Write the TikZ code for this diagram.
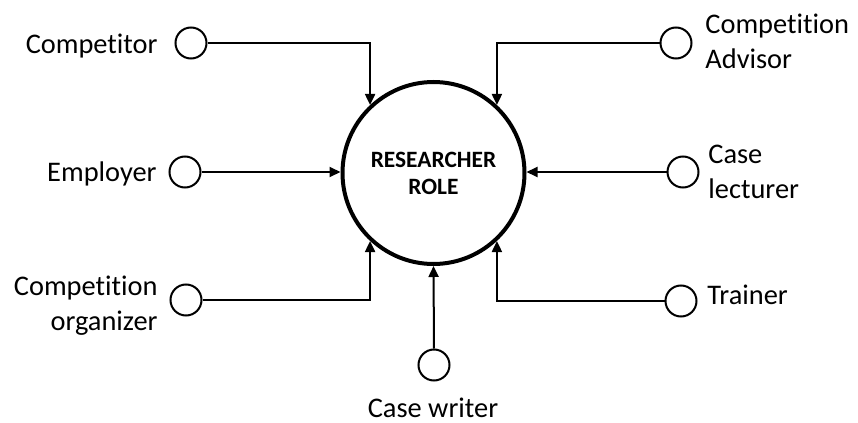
\documentclass[tikz,border=0pt]{standalone}
\usepackage{fontspec}
\setmainfont{Carlito}[Ligatures=NoCommon]
\usetikzlibrary{arrows.meta}
\begin{document}
\begin{tikzpicture}[x=0.5pt,y=-0.5pt,
  port/.style={circle,draw,line width=1pt,minimum size=15.5pt,inner sep=0pt},
  role/.style={circle,draw,line width=2pt,minimum size=91pt,inner sep=0pt,
    align=center,font=\fontsize{11.7pt}{13.5pt}\selectfont\bfseries},
  lbl/.style={inner sep=0pt,font=\fontsize{14.2pt}{17.5pt}\selectfont},
  conn/.style={line width=1pt,-{Triangle[length=5.5pt,width=5pt]}}]
\useasboundingbox (0,0) rectangle (858,423);
\node[role] (R) at (433.5,173) {RESEARCHER\\ROLE};
\node[port] (c1) at (191,43) {};
\node[port] (c2) at (185,172) {};
\node[port] (c3) at (186,300) {};
\node[port] (c4) at (676,43) {};
\node[port] (c5) at (683,172) {};
\node[port] (c6) at (681,301) {};
\node[port] (c7) at (434,365) {};
\node[lbl,anchor=base east] (l1) at (158,54) {Competitor};
\node[lbl,anchor=base east] (l2) at (157,181) {Employer};
\node[lbl,anchor=east,align=right] (l3) at (158,306) {Competition\\organizer};
\node[lbl,anchor=west,align=left] (l4) at (705,41) {Competition\\Advisor};
\node[lbl,anchor=west,align=left] (l5) at (708,172) {Case\\lecturer};
\node[lbl,anchor=base west] (l6) at (707,304) {Trainer};
\node[lbl,anchor=base] (l7) at (433,417) {Case writer};
\draw[conn] (c1.east) -| (R.133);
\draw[conn] (c2.east) -- (R.west |- c2.east);
\draw[conn] (c3.east) -| (R.-133);
\draw[conn] (c4.west) -| (R.47);
\draw[conn] (c5.west) -- (R.east |- c5.west);
\draw[conn] (c6.west) -| (R.-47);
\draw[conn] (c7.north) -- (R.south);
\end{tikzpicture}
\end{document}
